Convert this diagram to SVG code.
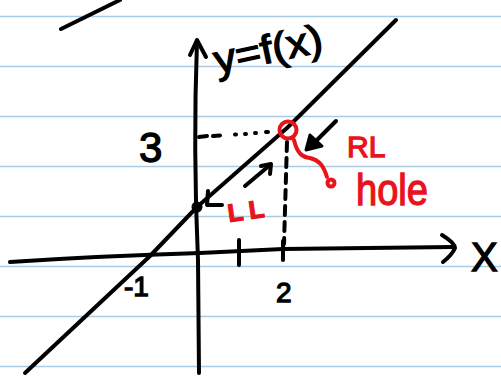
<svg xmlns="http://www.w3.org/2000/svg" width="501" height="378" viewBox="0 0 501 378">
<style>
.rule{stroke:#a9cbe6;stroke-width:1.6}
.ink{fill:none;stroke:#000;stroke-width:4;stroke-linecap:round;stroke-linejoin:round}
.red{fill:none;stroke:#e8141b;stroke-width:4;stroke-linecap:round;stroke-linejoin:round}
.t{font-family:"Liberation Sans","DejaVu Sans",sans-serif;fill:#000;stroke:#000;stroke-width:1.3}
.tr{font-family:"Liberation Sans","DejaVu Sans",sans-serif;fill:#e8141b;stroke:#e8141b;stroke-width:1.3}
</style>
<rect width="501" height="378" fill="#fff"/>
<g id="paper">
<line class="rule" x1="0" y1="16.5" x2="501" y2="16.5"/>
<line class="rule" x1="0" y1="66.5" x2="501" y2="66.5"/>
<line class="rule" x1="0" y1="116.5" x2="501" y2="116.5"/>
<line class="rule" x1="0" y1="166.5" x2="501" y2="166.5"/>
<line class="rule" x1="0" y1="216.5" x2="501" y2="216.5"/>
<line class="rule" x1="0" y1="266.5" x2="501" y2="266.5"/>
<line class="rule" x1="0" y1="316.5" x2="501" y2="316.5"/>
<line class="rule" x1="0" y1="366.5" x2="501" y2="366.5"/>
</g>
<g id="stray"><path class="ink" d="M61,29 L120,0"/></g>
<g id="axes">
<path class="ink" d="M197,41 Q193,150 198,260 L199,373"/>
<path class="ink" d="M190,55 L197,40 L206,57"/>
<path class="ink" d="M10,262 Q100,256 200,253 L283,249 L453,247"/>
<path class="ink" d="M442,235 Q455,243 455,248 Q452,255 443,262"/>
<path class="ink" d="M239,240 L239,265"/>
<path class="ink" d="M283,241 L283,260"/>
</g>
<g id="graph">
<polyline class="ink" points="25,373 150,256 197,207 287,128 396,20"/>
<circle cx="197" cy="207" r="5.5" fill="#000"/>
<path class="ink" d="M208,191 L207,205 L222,205"/>
</g>
<g id="guides">
<path class="ink" stroke-width="3.5" d="M199,137 L207,136 M213,136 L220,135.5 M235,134.5 L236,134.5 M245,134 L246,134 M255,133 L256,133 M266,132 L268,132"/>
<path class="ink" stroke-width="3.5" stroke-dasharray="9 7" d="M287,142 L284,244"/>
</g>
<g id="arrows">
<path class="ink" d="M245,186 L270,165"/>
<path class="ink" d="M261,166 L271,164 L270,174"/>
<path class="ink" d="M336,121 L314,143"/>
<polygon points="306,150 310,135 322,146" fill="#000" stroke="#000" stroke-width="3" stroke-linejoin="round"/>
</g>
<g id="hole">
<circle class="red" cx="288" cy="130" r="8.5"/>
<path class="red" d="M294,140 C297,153 302,157 310,158 C318,160 323,164 327,177"/>
<circle class="red" cx="331" cy="183" r="3.5" stroke-width="3.5"/>
</g>
<g id="labels">
<text class="t" x="217" y="74" font-size="40" textLength="110" lengthAdjust="spacingAndGlyphs" transform="rotate(-12 217 74)">y=f(x)</text>
<text class="t" x="139" y="162" font-size="42">3</text>
<text class="t" x="124" y="296" font-size="28">-1</text>
<text class="t" x="276" y="302" font-size="28">2</text>
<text class="t" x="471" y="271" font-size="40">X</text>
<text class="tr" x="347" y="157" font-size="30">RL</text>
<text class="tr" x="356" y="205" font-size="44" textLength="72" lengthAdjust="spacingAndGlyphs">hole</text>
<text class="tr" x="229" y="222" font-size="25" font-weight="bold" letter-spacing="6" transform="rotate(-8 229 222)">LL</text>
</g>
</svg>
